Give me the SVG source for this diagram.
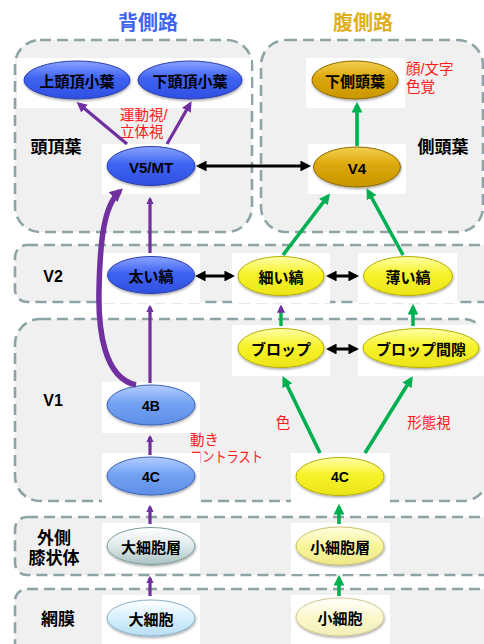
<svg xmlns="http://www.w3.org/2000/svg" width="484" height="644" viewBox="0 0 484 644">
<style>
.box{fill:#f0f0f0;stroke:#8ea3a6;stroke-width:2.6;stroke-dasharray:11 6}
.bg{fill:#ffffff}
.nt{font-family:"Liberation Sans","Noto Sans CJK JP",sans-serif;font-weight:bold;font-size:15px;fill:#000;text-anchor:middle;dominant-baseline:central}
.lb{font-family:"Liberation Sans","Noto Sans CJK JP",sans-serif;font-weight:bold;font-size:17px;fill:#000;text-anchor:middle;dominant-baseline:central}
.rd{font-family:"Liberation Sans","Noto Sans CJK JP",sans-serif;font-size:14.5px;fill:#ff1a1a;dominant-baseline:central}
.ttl{font-family:"Liberation Sans","Noto Sans CJK JP",sans-serif;font-weight:bold;font-size:20px;text-anchor:middle;dominant-baseline:central}
.pu{stroke:#7030a0;fill:none;stroke-width:3.2;marker-end:url(#mp)}
.gr{stroke:#00b050;fill:none;stroke-width:3.6;marker-end:url(#mg)}
.bk{stroke:#000;fill:none;stroke-width:3;marker-end:url(#mb);marker-start:url(#mb)}
.e{stroke-width:1;filter:url(#sh)}
</style>
<defs>
<filter id="sh" x="-20%" y="-30%" width="140%" height="170%"><feDropShadow dx="0.5" dy="1.5" stdDeviation="1.2" flood-color="#000" flood-opacity="0.35"/></filter>
<linearGradient id="gBlue" x1="0" y1="0" x2="0" y2="1"><stop offset="0" stop-color="#8aa4ff"/><stop offset="0.45" stop-color="#3f63f2"/><stop offset="1" stop-color="#2f4fe0"/></linearGradient>
<linearGradient id="gLBlue" x1="0" y1="0" x2="0" y2="1"><stop offset="0" stop-color="#b4ceff"/><stop offset="0.45" stop-color="#74a2f2"/><stop offset="1" stop-color="#5d8ee6"/></linearGradient>
<linearGradient id="gGold" x1="0" y1="0" x2="0" y2="1"><stop offset="0" stop-color="#f3d050"/><stop offset="0.45" stop-color="#dba70a"/><stop offset="1" stop-color="#c99600"/></linearGradient>
<linearGradient id="gYel" x1="0" y1="0" x2="0" y2="1"><stop offset="0" stop-color="#ffffa8"/><stop offset="0.45" stop-color="#f7f22a"/><stop offset="1" stop-color="#ebe418"/></linearGradient>
<linearGradient id="gPYel" x1="0" y1="0" x2="0" y2="1"><stop offset="0" stop-color="#ffffe0"/><stop offset="0.5" stop-color="#f8f49a"/><stop offset="1" stop-color="#efe98a"/></linearGradient>
<linearGradient id="gPPYel" x1="0" y1="0" x2="0" y2="1"><stop offset="0" stop-color="#ffffff"/><stop offset="0.5" stop-color="#fbf8cc"/><stop offset="1" stop-color="#f2eeb8"/></linearGradient>
<linearGradient id="gTeal" x1="0" y1="0" x2="0" y2="1"><stop offset="0" stop-color="#ffffff"/><stop offset="0.5" stop-color="#dfe9e9"/><stop offset="1" stop-color="#a9c2c2"/></linearGradient>
<linearGradient id="gSky" x1="0" y1="0" x2="0" y2="1"><stop offset="0" stop-color="#ffffff"/><stop offset="0.5" stop-color="#d6effc"/><stop offset="1" stop-color="#b8def4"/></linearGradient>
<marker id="mp" viewBox="0 0 10 10" refX="7" refY="5" markerWidth="3.2" markerHeight="3.2" orient="auto-start-reverse"><path d="M0,0 L10,5 L0,10 z" fill="#7030a0"/></marker>
<marker id="mpt" viewBox="0 0 10 10" refX="7" refY="5" markerWidth="2.4" markerHeight="2.4" orient="auto-start-reverse"><path d="M0,0 L10,5 L0,10 z" fill="#7030a0"/></marker>
<marker id="mg" viewBox="0 0 10 10" refX="7" refY="5" markerWidth="3" markerHeight="3" orient="auto-start-reverse"><path d="M0,0 L10,5 L0,10 z" fill="#00b050"/></marker>
<marker id="mb" viewBox="0 0 10 10" refX="7" refY="5" markerWidth="3.6" markerHeight="3.6" orient="auto-start-reverse"><path d="M0,0 L10,5 L0,10 z" fill="#000"/></marker>
</defs>
<rect width="484" height="644" fill="#ffffff"/>

<g id="regions">
<rect class="box" x="15" y="40" width="237" height="192" rx="25"/>
<rect class="box" x="261" y="40" width="222" height="192" rx="25"/>
<rect class="box" x="15" y="245" width="500" height="57" rx="12"/>
<rect class="box" x="15" y="319" width="473" height="182" rx="25"/>
<rect class="box" x="15" y="517" width="500" height="58" rx="12"/>
<rect class="box" x="15" y="589" width="500" height="80" rx="12"/>
</g>

<g id="labels">
<text class="ttl" x="148" y="23" fill="#3f66f0">背側路</text>
<text class="ttl" x="363" y="23" fill="#e0b01c">腹側路</text>
<text class="lb" x="56" y="147">頭頂葉</text>
<text class="lb" x="443" y="147">側頭葉</text>
<text class="lb" x="53" y="276" style="font-size:16px">V2</text>
<text class="lb" x="53" y="400" style="font-size:16px">V1</text>
<text class="lb" x="54" y="538">外側</text>
<text class="lb" x="54" y="558">膝状体</text>
<text class="lb" x="58" y="619">網膜</text>
<text class="rd" x="120" y="115">運動視/</text>
<text class="rd" x="120" y="132">立体視</text>
<text class="rd" x="406" y="69">顔/文字</text>
<text class="rd" x="406" y="87">色覚</text>
<text class="rd" x="190" y="440">動き</text>
<text class="rd" x="190" y="457" textLength="73" lengthAdjust="spacingAndGlyphs">コントラスト</text>
<text class="rd" x="283" y="423" text-anchor="middle">色</text>
<text class="rd" x="429" y="423" text-anchor="middle">形態視</text>
</g>

<g id="n-spl"><rect class="bg" x="17" y="58" width="117" height="50"/><ellipse class="e" cx="77" cy="80" rx="53" ry="19" fill="url(#gBlue)" stroke="#2a3fb0"/><text class="nt" x="77" y="81">上頭頂小葉</text></g>
<g id="n-ipl"><rect class="bg" x="133" y="58" width="118" height="50"/><ellipse class="e" cx="190" cy="80" rx="52" ry="19" fill="url(#gBlue)" stroke="#2a3fb0"/><text class="nt" x="190" y="81">下頭頂小葉</text></g>
<g id="n-it"><rect class="bg" x="306" y="58" width="99" height="50"/><ellipse class="e" cx="355" cy="80" rx="43" ry="19" fill="url(#gGold)" stroke="#8c6a00"/><text class="nt" x="355" y="81">下側頭葉</text></g>
<g id="n-v5"><rect class="bg" x="102" y="144" width="98" height="50"/><ellipse class="e" cx="151" cy="166" rx="44" ry="19.5" fill="url(#gBlue)" stroke="#2a3fb0"/><text class="nt" x="151" y="167">V5/MT</text></g>
<g id="n-v4"><rect class="bg" x="308" y="144" width="98" height="50"/><ellipse class="e" cx="357" cy="167" rx="43.5" ry="20" fill="url(#gGold)" stroke="#8c6a00"/><text class="nt" x="357" y="168">V4</text></g>
<g id="n-thick"><rect class="bg" x="101" y="253" width="99" height="50"/><ellipse class="e" cx="151" cy="275" rx="43.5" ry="18.5" fill="url(#gBlue)" stroke="#2a3fb0"/><text class="nt" x="151" y="276">太い縞</text></g>
<g id="n-thin"><rect class="bg" x="232" y="253" width="98" height="50"/><ellipse class="e" cx="281" cy="276" rx="43" ry="19.5" fill="url(#gYel)" stroke="#b8b000"/><text class="nt" x="281" y="277">細い縞</text></g>
<g id="n-pale"><rect class="bg" x="358" y="253" width="99" height="50"/><ellipse class="e" cx="408" cy="276" rx="44.5" ry="19.5" fill="url(#gYel)" stroke="#b8b000"/><text class="nt" x="408" y="277">薄い縞</text></g>
<g id="n-blob"><rect class="bg" x="232" y="325" width="98" height="51"/><ellipse class="e" cx="281" cy="348" rx="43" ry="19.5" fill="url(#gYel)" stroke="#b8b000"/><text class="nt" x="281" y="349">ブロップ</text></g>
<g id="n-interblob"><rect class="bg" x="358" y="325" width="126" height="51"/><ellipse class="e" cx="421" cy="348" rx="58" ry="19.5" fill="url(#gYel)" stroke="#b8b000"/><text class="nt" x="421" y="349">ブロップ間隙</text></g>
<g id="n-4b"><rect class="bg" x="102" y="382" width="98" height="51"/><ellipse class="e" cx="151" cy="405" rx="44" ry="20" fill="url(#gLBlue)" stroke="#3d64b8"/><text class="nt" x="151" y="406" style="font-size:14px">4B</text></g>
<g id="n-4c-m"><rect class="bg" x="102" y="453" width="98" height="50"/><ellipse class="e" cx="151" cy="476" rx="44" ry="19" fill="url(#gLBlue)" stroke="#3d64b8"/><text class="nt" x="151" y="477" style="font-size:14px">4C</text></g>
<g id="n-4c-p"><rect class="bg" x="291" y="453" width="99" height="50"/><ellipse class="e" cx="340" cy="476.5" rx="44" ry="19" fill="url(#gYel)" stroke="#b8b000"/><text class="nt" x="340" y="477" style="font-size:14px">4C</text></g>
<g id="n-lgn-m"><rect class="bg" x="102" y="523" width="98" height="50"/><ellipse class="e" cx="151" cy="546" rx="44" ry="18.5" fill="url(#gTeal)" stroke="#7e9c9c"/><text class="nt" x="151" y="547">大細胞層</text></g>
<g id="n-lgn-p"><rect class="bg" x="291" y="523" width="99" height="51"/><ellipse class="e" cx="340" cy="546" rx="44" ry="19" fill="url(#gPYel)" stroke="#c8c070"/><text class="nt" x="340" y="547">小細胞層</text></g>
<g id="n-ret-m"><rect class="bg" x="102" y="595" width="98" height="49"/><ellipse class="e" cx="151" cy="618" rx="44" ry="18" fill="url(#gSky)" stroke="#8ab0c8"/><text class="nt" x="151" y="619">大細胞</text></g>
<g id="n-ret-p"><rect class="bg" x="291" y="595" width="99" height="49"/><ellipse class="e" cx="340" cy="617" rx="44" ry="19" fill="url(#gPPYel)" stroke="#d0c890"/><text class="nt" x="340" y="618">小細胞</text></g>

<g id="connectors">
<line class="bk" x1="199" y1="166" x2="308" y2="166"/>
<line class="bk" x1="198" y1="276" x2="232" y2="276"/>
<line class="bk" x1="329" y1="276" x2="356" y2="276"/>
<line class="bk" x1="329" y1="349" x2="356" y2="349"/>
<line class="pu" x1="127" y1="144" x2="79" y2="104"/>
<line class="pu" x1="167" y1="144" x2="190" y2="104"/>
<line class="pu" style="marker-end:url(#mpt)" x1="150" y1="253" x2="150" y2="199"/>
<line class="pu" style="marker-end:url(#mpt)" x1="150" y1="383" x2="150" y2="307"/>
<line class="pu" style="marker-end:url(#mpt)" x1="150" y1="455" x2="150" y2="437"/>
<line class="pu" style="marker-end:url(#mpt)" x1="150" y1="524" x2="150" y2="507"/>
<line class="pu" style="marker-end:url(#mpt)" x1="150" y1="596" x2="150" y2="578"/>
<path class="pu" style="stroke-width:5.5;marker-end:url(#mpt)" d="M136,385 C104,378 98,330 99,290 C100,240 104,205 120,191"/>
<line class="gr" x1="357" y1="146" x2="357" y2="105"/>
<line class="gr" x1="283" y1="255" x2="328" y2="196"/>
<line class="gr" x1="403" y1="255" x2="368" y2="191"/>
<line class="gr" style="marker-end:url(#mpt);stroke-width:3.4" x1="281" y1="326" x2="281" y2="307"/>
<line class="gr" x1="413" y1="326" x2="413" y2="307"/>
<line class="gr" x1="320" y1="453" x2="284" y2="379"/>
<line class="gr" x1="365" y1="453" x2="411" y2="379"/>
<line class="gr" x1="339" y1="524" x2="339" y2="507"/>
<line class="gr" x1="339" y1="596" x2="339" y2="578"/>
</g>
</svg>
